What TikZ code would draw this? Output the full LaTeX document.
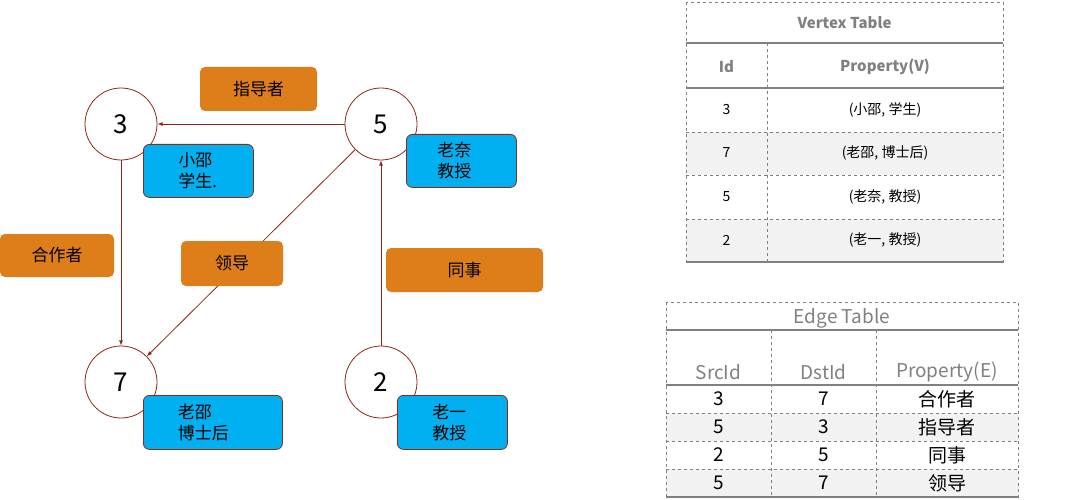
\documentclass[tikz,border=0pt]{standalone}
\usepackage{fontspec}
\setmainfont{Noto Sans CJK SC}
\usetikzlibrary{positioning}
\definecolor{edgered}{RGB}{140,40,20}
\definecolor{labelorange}{RGB}{222,126,26}
\definecolor{infoblue}{RGB}{0,176,240}
\definecolor{tablegray}{RGB}{128,128,128}
\definecolor{rowgray}{RGB}{242,242,242}
\tikzset{
    vertex/.style={draw=edgered, thick, circle, minimum size=72pt, font=\itshape\fontsize{26}{26}\selectfont},
    info/.style={draw=edgered, thick, fill=infoblue, rounded corners=6pt, anchor=north west, align=left, inner sep=0pt, font=\fontsize{17}{21}\selectfont},
    rel/.style={fill=labelorange, rounded corners=5pt, font=\fontsize{17}{17}\selectfont},
    link/.style={draw=edgered, thick, -latex},
    cellline/.style={draw=tablegray, dashed},
    thickline/.style={draw=tablegray, line width=2.5pt}
}
\begin{document}
\begin{tikzpicture}[x=1pt, y=-1pt]
    \useasboundingbox (0,0) rectangle (1068,500);

    % vertices
    \node[vertex] (v3) at (121,124) {3};
    \node[vertex] (v5) at (381,124) {5};
    \node[vertex] (v7) at (121,382) {7};
    \node[vertex] (v2) at (381,382) {2};

    % vertex properties
    \node[info, minimum width=110pt, minimum height=53pt, text width=80pt] (p3) at (143,144) {\hspace*{20pt}小邵\\\hspace*{20pt}学生.};
    \node[info, minimum width=110pt, minimum height=53pt, text width=80pt] (p5) at (406,134) {\hspace*{16pt}老奈\\\hspace*{16pt}教授};
    \node[info, minimum width=139pt, minimum height=54pt, text width=110pt] (p7) at (143,395) {\hspace*{20pt}老邵\\\hspace*{20pt}博士后};
    \node[info, minimum width=110pt, minimum height=54pt, text width=80pt] (p2) at (397,395) {\hspace*{20pt}老一\\\hspace*{20pt}教授};

    % edges
    \draw[link] (v5) -- (v3);
    \draw[link] (v3) -- (v7);
    \draw[link] (v5) -- (v7);
    \draw[link] (v2) -- (v5);

    % edge labels
    \node[rel, minimum width=117pt, minimum height=44pt] (e53) at (258.5,89) {指导者};
    \node[rel, minimum width=114pt, minimum height=43pt] (e37) at (57,255.5) {合作者};
    \node[rel, minimum width=102pt, minimum height=45pt] (e57) at (232,263.5) {领导};
    \node[rel, minimum width=157pt, minimum height=44pt] (e25) at (464.5,270) {同事};

    % vertex table
    \fill[rowgray] (686,132) rectangle (1003,175);
    \fill[rowgray] (686,219) rectangle (1003,262);
    \draw[cellline] (686,2) rectangle (1003,262);
    \foreach \y in {132,175,219} \draw[cellline] (686,\y) -- (1003,\y);
    \draw[cellline] (767,43) -- (767,262);
    \foreach \y in {43,88,262} \draw[thickline] (686,\y) -- (1003,\y);
    \node[text=tablegray, font=\bfseries\fontsize{15}{15}\selectfont] (vtitle) at (844.5,23) {Vertex Table};
    \node[text=tablegray, font=\bfseries\fontsize{15}{15}\selectfont] (vid) at (726.5,67) {Id};
    \node[text=tablegray, font=\bfseries\fontsize{15}{15}\selectfont] (vprop) at (885,67) {Property(V)};
    \foreach \id/\prop [count=\i] in {3/{(小邵, 学生)}, 7/{(老邵, 博士后)}, 5/{(老奈, 教授)}, 2/{(老一, 教授)}} {
        \node[font=\fontsize{14}{14}\selectfont] (vid\i) at (726.5,66+43.5*\i) {\id};
        \node[font=\fontsize{14}{14}\selectfont] (vprop\i) at (885,66+43.5*\i) {\prop};
    }

    % edge table
    \fill[rowgray] (666,413) rectangle (1018,441);
    \fill[rowgray] (666,469) rectangle (1018,497);
    \draw[cellline] (666,302) rectangle (1018,497);
    \foreach \y in {413,441,469} \draw[cellline] (666,\y) -- (1018,\y);
    \foreach \x in {771,876} \draw[cellline] (\x,330) -- (\x,497);
    \foreach \y in {330,385,497} \draw[thickline] (666,\y) -- (1018,\y);
    \node[text=tablegray, font=\fontsize{19}{19}\selectfont] (etitle) at (842,318) {Edge Table};
    \node[text=tablegray, font=\fontsize{19}{19}\selectfont] (esrc) at (718.5,372) {SrcId};
    \node[text=tablegray, font=\fontsize{19}{19}\selectfont] (edst) at (823.5,372) {DstId};
    \node[text=tablegray, font=\fontsize{19}{19}\selectfont] (eprop) at (947,372) {Property(E)};
    \foreach \src/\dst/\prop [count=\i] in {3/7/合作者, 5/3/指导者, 2/5/同事, 5/7/领导} {
        \node[font=\fontsize{19}{19}\selectfont] (esrc\i) at (718.5,371+28*\i) {\src};
        \node[font=\fontsize{19}{19}\selectfont] (edst\i) at (823.5,371+28*\i) {\dst};
        \node[font=\fontsize{19}{19}\selectfont] (eprop\i) at (947,371+28*\i) {\prop};
    }
\end{tikzpicture}
\end{document}
